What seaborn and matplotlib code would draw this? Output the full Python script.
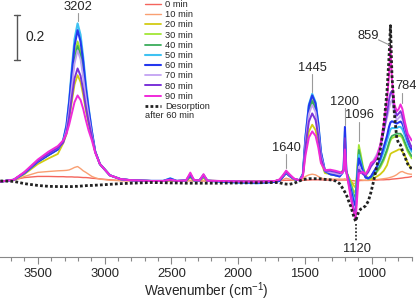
import numpy as np
import pandas as pd
import matplotlib
matplotlib.use("Agg")
import matplotlib.pyplot as plt
from matplotlib.ticker import MultipleLocator
import seaborn as sns

# wavenumber grid (cm-1), high -> low
wavenumber = [3780, 3680, 3600, 3500, 3420, 3350, 3310, 3285, 3265, 3245, 3225, 3202, 3180, 3160, 3140, 3120, 3095, 3070, 3035, 2960, 2880, 2800, 2650,
              2560, 2508, 2460, 2390, 2358, 2330, 2290, 2259, 2230, 2150, 2000, 1850, 1720,
              1690, 1665, 1640, 1615, 1580, 1540, 1515, 1495, 1470, 1445, 1420, 1400, 1380, 1350, 1310, 1270,
              1240, 1220, 1210, 1200, 1190, 1175, 1155, 1138, 1120, 1108, 1096, 1082, 1065, 1045, 1025, 1005, 985, 960, 935, 910, 885, 870, 859, 848, 830, 812, 797, 784, 770, 750, 730, 710, 700]

# absorbance of each spectrum
abs_0 = [-0.003, 0.005, 0.015, 0.02, 0.02, 0.019, 0.019, 0.018, 0.018, 0.018, 0.017, 0.017, 0.016, 0.015, 0.015, 0.014, 0.012, 0.011, 0.009, 0.005, 0.002, 0.001, 0.0,
         0.0, 0.0, 0.0, 0.0, 0.001, 0.0, 0.0, 0.0, 0.0, 0.0, 0.0, 0.0, 0.001,
         0.001, 0.002, 0.003, 0.003, 0.003, 0.003, 0.003, 0.004, 0.004, 0.005, 0.005, 0.005, 0.005, 0.004, 0.004, 0.004,
         0.004, 0.004, 0.004, 0.004, 0.004, 0.003, 0.002, 0.001, 0.0, 0.0, 0.001, 0.002, 0.002, 0.003, 0.003, 0.003, 0.003, 0.004, 0.005, 0.005, 0.006, 0.006, 0.007, 0.008, 0.009, 0.01, 0.011, 0.012, 0.013, 0.015, 0.016, 0.018, 0.02]
abs_10 = [-0.003, 0.002, 0.02, 0.038, 0.042, 0.045, 0.046, 0.047, 0.049, 0.054, 0.06, 0.064, 0.055, 0.045, 0.038, 0.03, 0.02, 0.014, 0.008, 0.003, 0.001, 0.0, 0.0,
          0.0, 0.001, 0.0, 0.0, 0.003, 0.0, 0.0, 0.002, 0.0, 0.0, 0.0, 0.0, 0.001,
          0.002, 0.006, 0.012, 0.008, 0.003, 0.004, 0.01, 0.02, 0.027, 0.03, 0.027, 0.02, 0.013, 0.008, 0.008, 0.008,
          0.008, 0.008, 0.008, 0.01, 0.006, 0.0, -0.005, -0.01, -0.012, -0.005, 0.005, 0.005, 0.003, 0.002, 0.002, 0.003, 0.005, 0.006, 0.008, 0.01, 0.012, 0.014, 0.016, 0.018, 0.022, 0.028, 0.035, 0.04, 0.042, 0.036, 0.032, 0.03, 0.03]
abs_20 = [-0.003, 0.004, 0.03, 0.075, 0.10, 0.12, 0.167, 0.208, 0.272, 0.353, 0.428, 0.47, 0.44, 0.382, 0.312, 0.254, 0.19, 0.13, 0.075, 0.025, 0.008, 0.003, 0.0,
          0.0, 0.003, 0.0, 0.001, 0.015, 0.002, 0.001, 0.013, 0.001, 0.0, -0.002, -0.003, 0.0,
          0.005, 0.018, 0.035, 0.022, 0.007, 0.003, 0.02, 0.13, 0.22, 0.25, 0.226, 0.168, 0.085, 0.035, 0.03, 0.025,
          0.025, 0.04, 0.045, 0.06, 0.04, 0.02, 0.0, -0.018, -0.03, 0.03, 0.12, 0.09, 0.05, 0.02, 0.008, 0.008, 0.012, 0.02, 0.03, 0.045, 0.07, 0.10, 0.12, 0.125, 0.13, 0.135, 0.14, 0.14, 0.13, 0.11, 0.08, 0.06, 0.055]
abs_30 = [-0.003, 0.005, 0.035, 0.085, 0.115, 0.14, 0.176, 0.236, 0.33, 0.45, 0.56, 0.62, 0.58, 0.49, 0.39, 0.30, 0.21, 0.13, 0.075, 0.025, 0.008, 0.003, 0.0,
          0.0, 0.004, 0.0, 0.001, 0.02, 0.002, 0.001, 0.018, 0.001, 0.0, -0.002, -0.004, 0.0,
          0.005, 0.02, 0.038, 0.024, 0.008, 0.003, 0.028, 0.186, 0.316, 0.36, 0.326, 0.242, 0.121, 0.043, 0.03, 0.025,
          0.025, 0.045, 0.05, 0.09, 0.045, 0.02, -0.01, -0.04, -0.055, 0.06, 0.16, 0.12, 0.064, 0.025, 0.012, 0.015, 0.025, 0.04, 0.06, 0.09, 0.13, 0.16, 0.18, 0.19, 0.195, 0.2, 0.2, 0.2, 0.19, 0.16, 0.13, 0.11, 0.10]
abs_40 = [-0.003, 0.005, 0.035, 0.085, 0.115, 0.14, 0.175, 0.232, 0.32, 0.44, 0.54, 0.60, 0.56, 0.48, 0.38, 0.30, 0.21, 0.13, 0.075, 0.025, 0.008, 0.003, 0.0,
          0.0, 0.005, 0.0, 0.001, 0.02, 0.002, 0.001, 0.018, 0.001, 0.0, -0.003, -0.005, 0.0,
          0.005, 0.02, 0.038, 0.024, 0.008, 0.003, 0.028, 0.183, 0.312, 0.355, 0.321, 0.238, 0.119, 0.042, 0.03, 0.025,
          0.025, 0.04, 0.045, 0.10, 0.045, 0.015, -0.02, -0.055, -0.077, 0.04, 0.138, 0.10, 0.055, 0.02, 0.01, 0.015, 0.027, 0.045, 0.07, 0.10, 0.14, 0.17, 0.19, 0.20, 0.205, 0.21, 0.21, 0.21, 0.20, 0.17, 0.14, 0.12, 0.11]
abs_50 = [-0.003, 0.005, 0.035, 0.085, 0.115, 0.14, 0.18, 0.25, 0.36, 0.50, 0.63, 0.70, 0.65, 0.55, 0.43, 0.33, 0.22, 0.13, 0.075, 0.025, 0.008, 0.003, 0.0,
          0.0, 0.012, 0.0, 0.002, 0.028, 0.003, 0.002, 0.028, 0.001, -0.003, -0.008, -0.01, -0.004,
          0.003, 0.02, 0.037, 0.023, 0.008, 0.003, 0.03, 0.20, 0.34, 0.387, 0.35, 0.26, 0.13, 0.045, 0.03, 0.025,
          0.02, 0.035, 0.045, 0.22, 0.04, 0.01, -0.03, -0.07, -0.10, 0.02, 0.115, 0.085, 0.045, 0.015, 0.01, 0.02, 0.04, 0.06, 0.09, 0.13, 0.18, 0.21, 0.23, 0.235, 0.235, 0.235, 0.24, 0.24, 0.23, 0.20, 0.165, 0.14, 0.13]
abs_60 = [-0.003, 0.005, 0.035, 0.085, 0.115, 0.14, 0.178, 0.245, 0.35, 0.48, 0.60, 0.67, 0.62, 0.53, 0.41, 0.32, 0.22, 0.13, 0.075, 0.025, 0.008, 0.003, 0.0,
          0.0, 0.01, 0.0, 0.002, 0.025, 0.003, 0.002, 0.025, 0.001, -0.002, -0.006, -0.008, -0.004,
          0.0, 0.018, 0.035, 0.022, 0.008, 0.003, 0.03, 0.196, 0.334, 0.38, 0.344, 0.255, 0.128, 0.045, 0.03, 0.025,
          0.02, 0.035, 0.05, 0.24, 0.045, 0.005, -0.04, -0.085, -0.114, 0.01, 0.10, 0.075, 0.04, 0.015, 0.012, 0.02, 0.04, 0.065, 0.10, 0.15, 0.20, 0.24, 0.26, 0.265, 0.26, 0.255, 0.26, 0.264, 0.255, 0.22, 0.18, 0.15, 0.14]
abs_70 = [-0.003, 0.005, 0.038, 0.09, 0.122, 0.147, 0.173, 0.228, 0.31, 0.42, 0.52, 0.58, 0.54, 0.46, 0.37, 0.29, 0.205, 0.13, 0.075, 0.025, 0.008, 0.003, 0.0,
          0.0, 0.005, 0.0, 0.002, 0.03, 0.003, 0.002, 0.022, 0.001, 0.0, -0.002, -0.003, 0.0,
          0.005, 0.022, 0.04, 0.025, 0.009, 0.003, 0.027, 0.175, 0.297, 0.338, 0.306, 0.227, 0.114, 0.045, 0.038, 0.033,
          0.028, 0.035, 0.045, 0.16, 0.04, 0.0, -0.06, -0.11, -0.13, -0.02, 0.064, 0.05, 0.035, 0.03, 0.05, 0.08, 0.093, 0.12, 0.16, 0.22, 0.28, 0.32, 0.35, 0.36, 0.30, 0.27, 0.28, 0.29, 0.275, 0.23, 0.19, 0.16, 0.15]
abs_80 = [-0.003, 0.005, 0.038, 0.09, 0.122, 0.147, 0.17, 0.214, 0.284, 0.373, 0.455, 0.50, 0.468, 0.404, 0.328, 0.265, 0.195, 0.13, 0.075, 0.025, 0.008, 0.003, 0.0,
          0.0, 0.004, 0.0, 0.002, 0.03, 0.003, 0.002, 0.024, 0.001, 0.0, -0.002, -0.003, 0.0,
          0.005, 0.022, 0.042, 0.026, 0.009, 0.003, 0.025, 0.155, 0.264, 0.30, 0.271, 0.20, 0.10, 0.045, 0.045, 0.04,
          0.035, 0.04, 0.05, 0.19, 0.045, 0.0, -0.065, -0.12, -0.144, -0.03, 0.05, 0.04, 0.03, 0.025, 0.04, 0.064, 0.08, 0.10, 0.15, 0.22, 0.30, 0.36, 0.39, 0.40, 0.33, 0.29, 0.30, 0.31, 0.29, 0.24, 0.19, 0.16, 0.15]
abs_90 = [-0.003, 0.006, 0.04, 0.095, 0.13, 0.155, 0.18, 0.21, 0.25, 0.30, 0.35, 0.38, 0.36, 0.32, 0.27, 0.225, 0.18, 0.125, 0.075, 0.025, 0.008, 0.003, 0.0,
          0.0, 0.006, 0.0, 0.002, 0.037, 0.004, 0.002, 0.03, 0.001, 0.0, -0.002, -0.003, 0.0,
          0.007, 0.025, 0.046, 0.03, 0.01, 0.003, 0.02, 0.115, 0.193, 0.22, 0.20, 0.15, 0.08, 0.048, 0.05, 0.045,
          0.04, 0.035, 0.045, 0.14, 0.04, -0.01, -0.08, -0.13, -0.173, -0.07, 0.034, 0.035, 0.04, 0.03, 0.05, 0.08, 0.086, 0.11, 0.16, 0.25, 0.36, 0.47, 0.60, 0.45, 0.34, 0.31, 0.32, 0.34, 0.32, 0.26, 0.21, 0.19, 0.18]
abs_desorb = [0.0, -0.002, -0.012, -0.02, -0.024, -0.025, -0.025, -0.025, -0.025, -0.025, -0.024, -0.024, -0.023, -0.022, -0.021, -0.02, -0.02, -0.019, -0.018, -0.015, -0.012, -0.01, -0.007,
              -0.008, -0.009, -0.009, -0.01, -0.01, -0.01, -0.01, -0.01, -0.01, -0.01, -0.009, -0.008, -0.007,
              -0.008, -0.012, -0.014, -0.015, -0.01, 0.0, 0.006, 0.008, 0.01, 0.01, 0.01, 0.01, 0.009, 0.007, 0.005, 0.0,
              -0.012, -0.03, -0.04, -0.05, -0.06, -0.085, -0.115, -0.15, -0.18, -0.155, -0.135, -0.125, -0.12, -0.11, -0.09, -0.05, 0.0, 0.07, 0.14, 0.24, 0.40, 0.55, 0.69, 0.47, 0.30, 0.19, 0.165, 0.16, 0.135, 0.105, 0.075, 0.06, 0.055]

labels = ['0 min', '10 min', '20 min', '30 min', '40 min', '50 min', '60 min', '70 min', '80 min', '90 min']
spectra = [abs_0, abs_10, abs_20, abs_30, abs_40, abs_50, abs_60, abs_70, abs_80, abs_90]
colors = ['#f4645c', '#f99f72', '#d2cc14', '#a3e635', '#3aac5a', '#3fc2f2', '#2437ee', '#c3a2f2', '#7a33d8', '#f02ad9']
widths = [1.0, 1.0, 1.3, 1.3, 1.3, 1.5, 1.5, 1.3, 1.4, 1.4]

# peak labels: (text, text x, text y, leader x, leader y0, leader y1)
peak_labels = [('3202', 3202, 0.775, 3202, 0.745, 0.71),
               ('1445', 1445, 0.502, 1445, 0.474, 0.395),
               ('1640', 1640, 0.147, 1640, 0.120, 0.058),
               ('1200', 1200, 0.352, 1200, 0.322, 0.25),
               ('1096', 1090, 0.293, 1096, 0.263, 0.178)]
scale_bar = 0.2

sns.set_theme(style='white')
plt.rcParams['font.family'] = ['Liberation Sans', 'DejaVu Sans']

fig = plt.figure(figsize=(4.16, 3.02), dpi=100)
ax = fig.add_axes([0.0, 0.149, 0.9897, 0.851])

for lbl, y, c, w in zip(labels, spectra, colors, widths):
    sns.lineplot(x=wavenumber, y=y, color=c, lw=w, sort=False, label=lbl, ax=ax)
sns.lineplot(x=wavenumber, y=abs_desorb, color='#222222', lw=2.0, linestyle=(0, (1.0, 0.8)),
             sort=False, label='Desorption', ax=ax)

ax.set_xlim(3783, 700)
ax.set_ylim(-0.338, 0.804)

# peak labels with grey leader lines
lead = '#9a9a9a'
for txt, tx, ty, lx, ly0, ly1 in peak_labels:
    ax.text(tx, ty, txt, ha='center', va='center', fontsize=9.3)
    ax.plot([lx, lx], [ly0, ly1], color=lead, lw=0.8)
ax.text(1022, 0.644, '859', ha='center', va='center', fontsize=9.3)
ax.plot([949, 866], [0.627, 0.604], color=lead, lw=0.8)
ax.text(740, 0.422, '784', ha='center', va='center', fontsize=9.3)
ax.plot([775, 775], [0.39, 0.345], color=lead, lw=0.8)
ax.text(1112, -0.302, '1120', ha='center', va='center', fontsize=9.3)
ax.plot([1120, 1120], [-0.19, -0.265], color='#333333', lw=1.3, linestyle=(0, (1, 1)))

# scale bar
ax.plot([3655, 3655], [0.538, 0.538 + scale_bar], color='#555555', lw=1.0)
ax.plot([3675, 3635], [0.538, 0.538], color='#555555', lw=1.0)
ax.plot([3675, 3635], [0.538 + scale_bar, 0.538 + scale_bar], color='#555555', lw=1.0)
ax.text(3590, 0.538 + scale_bar / 2, f'{scale_bar}', ha='left', va='center', fontsize=10)

# axes styling
for s in ['left', 'top', 'right']:
    ax.spines[s].set_visible(False)
ax.spines['bottom'].set_color('#888888')
ax.spines['bottom'].set_linewidth(0.8)
ax.set_yticks([])
ax.xaxis.set_major_locator(MultipleLocator(500))
ax.xaxis.set_minor_locator(MultipleLocator(100))
ax.tick_params(axis='x', which='major', direction='out', length=5, width=0.8, color='#888888',
               labelsize=9.4, pad=3, bottom=True)
ax.tick_params(axis='x', which='minor', direction='out', length=3, width=0.8, color='#888888', bottom=True)
ax.set_xlabel('Wavenumber (cm$^{\\mathregular{-1}}$)', fontsize=9.8, labelpad=0.3)
ax.set_ylabel('')

handles, lbls = ax.get_legend_handles_labels()
ax.get_legend().remove()
fig.legend(handles, lbls, loc='upper left', bbox_to_anchor=(145 / 416, 1.0), frameon=False,
           fontsize=6.7, handlelength=1.75, handletextpad=0.45, labelspacing=0.13,
           borderpad=0.0, borderaxespad=0.0)
fig.text(145 / 416, 1 - 115 / 302, 'after 60 min', ha='left', va='center', fontsize=6.7)

fig.savefig('out.png', dpi=100)
